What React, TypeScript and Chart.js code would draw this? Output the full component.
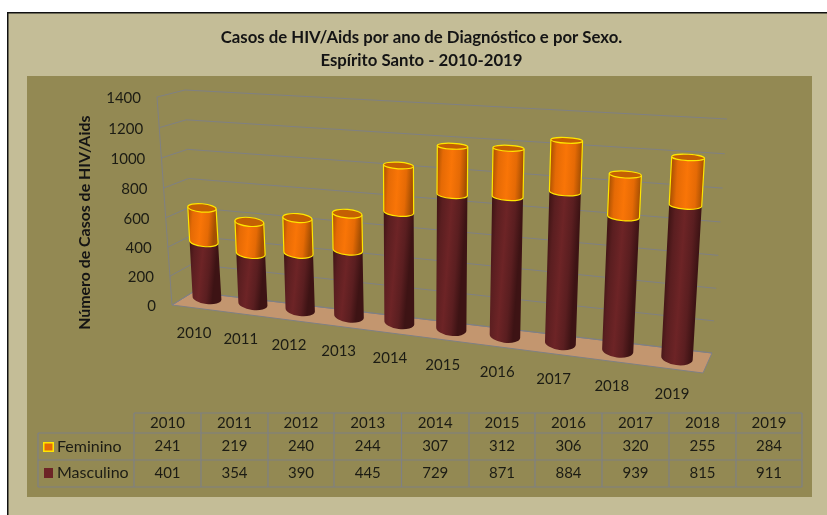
import React, { useEffect, useRef } from "react";
import { Chart, registerables } from "chart.js";

Chart.register(...registerables);

const years = ["2010", "2011", "2012", "2013", "2014", "2015", "2016", "2017", "2018", "2019"];
const feminino = [241, 219, 240, 244, 307, 312, 306, 320, 255, 284];
const masculino = [401, 354, 390, 445, 729, 871, 884, 939, 815, 911];
const chartTitle = ["Casos de HIV/Aids por ano de Diagnóstico e por Sexo.", "Espírito Santo - 2010-2019"];
const yTitle = "Número de Casos de HIV/Aids";

type Pt = [number, number];
const FONT = "Lato, Carlito, sans-serif";
const TEXT = "#1c1c14";
const GRID = "#7f8084";

const lerp = (a: number, b: number, t: number) => a + (b - a) * t;

// Perspective of a plane: unit square -> quadrilateral (0,0),(1,0),(1,1),(0,1)
function homography(q: Pt[]) {
  const [[x0, y0], [x1, y1], [x2, y2], [x3, y3]] = q;
  const dx1 = x1 - x2, dx2 = x3 - x2, sx = x0 - x1 + x2 - x3;
  const dy1 = y1 - y2, dy2 = y3 - y2, sy = y0 - y1 + y2 - y3;
  const den = dx1 * dy2 - dx2 * dy1;
  const g = (sx * dy2 - dx2 * sy) / den;
  const h = (dx1 * sy - sx * dy1) / den;
  const a = x1 - x0 + g * x1, b = x3 - x0 + h * x3;
  const d = y1 - y0 + g * y1, e = y3 - y0 + h * y3;
  return (u: number, v: number): Pt => {
    const w = g * u + h * v + 1;
    return [(a * u + b * v + x0) / w, (d * u + e * v + y0) / w];
  };
}

// Plane that holds the bar axes: foreshortening along the categories, bilinear otherwise
const depth = 1.155;
const foreshorten = (u: number) => u / (u + depth * (1 - u));
function barPlane(u: number, v: number): Pt {
  const t = foreshorten(u);
  return [lerp(lerp(207, 677, t), lerp(196, 690, t), v), lerp(lerp(298, 358, t), lerp(101.5, 123, t), v)];
}
const backWall = homography([[193, 292], [712, 353], [727, 119], [185, 90]]);
const frontWall = (v: number): Pt => [lerp(172, 157, v), lerp(305, 97, v) + 8 * v * (1 - v)];

const tableCols = [134, 201, 268, 334, 401.5, 469, 535, 602, 669, 736, 802];
const tableRows = [413, 433, 460, 487];

function cylinder(ctx: CanvasRenderingContext2D, el: any, chart: any, c: any) {
  const a = chart.chartArea;
  const cat = (a.right - a.left) / years.length;
  const u = ((el.x - a.left) / (a.right - a.left) - 0.05) / 0.9;
  const t = foreshorten(u);
  const nv = (y: number) => (a.bottom - y) / (a.bottom - a.top);
  const ends = (v: number): [Pt, Pt] => {
    const mid = barPlane(u, v);
    const k = lerp(lerp(1, 1.09, t), lerp(0.96, 1.13, t), v / 0.85);
    const half = ((el.width / cat) * 51 * k) / 2;
    const dx = lerp(470, 494, v), dy = lerp(60, 20, v);
    const n = Math.hypot(dx, dy);
    return [
      [mid[0] - (half * dx) / n, mid[1] - (half * dy) / n],
      [mid[0] + (half * dx) / n, mid[1] + (half * dy) / n],
    ];
  };
  const [L0, R0] = ends(nv(el.base));
  const [L1, R1] = ends(nv(el.y));
  const geo = (L: Pt, R: Pt) => {
    const cx = (L[0] + R[0]) / 2, cy = (L[1] + R[1]) / 2;
    const rx = Math.hypot(R[0] - L[0], R[1] - L[1]) / 2;
    const ry = 2.6 + Math.max(0, cy - 130) * 0.02;
    return { cx, cy, rx, ry, rot: Math.atan2(R[1] - L[1], R[0] - L[0]) };
  };
  const b = geo(L0, R0), e = geo(L1, R1);
  const grad = ctx.createLinearGradient(L1[0], L1[1], R1[0], R1[1]);
  grad.addColorStop(0, c.edge);
  grad.addColorStop(0.2, c.mid);
  grad.addColorStop(0.5, c.light);
  grad.addColorStop(0.78, c.mid);
  grad.addColorStop(1, c.edge);
  ctx.beginPath();
  ctx.moveTo(L1[0], L1[1]);
  ctx.lineTo(L0[0], L0[1]);
  ctx.ellipse(b.cx, b.cy, b.rx, b.ry, b.rot, Math.PI, 0, true);
  ctx.lineTo(R1[0], R1[1]);
  ctx.closePath();
  ctx.fillStyle = grad;
  ctx.fill();
  if (c.stroke) {
    ctx.strokeStyle = c.stroke;
    ctx.lineWidth = 1.2;
    ctx.beginPath();
    ctx.moveTo(L1[0], L1[1]);
    ctx.lineTo(L0[0], L0[1]);
    ctx.ellipse(b.cx, b.cy, b.rx, b.ry, b.rot, Math.PI, 0, true);
    ctx.lineTo(R1[0], R1[1]);
    ctx.stroke();
  }
  ctx.beginPath();
  ctx.ellipse(e.cx, e.cy, e.rx, e.ry, e.rot, 0, Math.PI * 2);
  ctx.fillStyle = c.top;
  ctx.fill();
  if (c.stroke) ctx.stroke();
}

const backdrop = {
  id: "backdrop",
  beforeDraw(chart: any) {
    const ctx = chart.ctx as CanvasRenderingContext2D;
    ctx.save();
    ctx.fillStyle = "#ffffff";
    ctx.fillRect(0, 0, 827, 515);
    ctx.fillStyle = "#111111";
    ctx.fillRect(7, 12, 820, 503);
    ctx.fillStyle = "#c4bd97";
    ctx.fillRect(8.5, 13.5, 818.5, 501.5);
    ctx.fillStyle = "#938953";
    ctx.fillRect(27, 76, 785, 421);
    ctx.restore();
  },
};

const scene = {
  id: "scene",
  beforeDatasetsDraw(chart: any) {
    const ctx = chart.ctx as CanvasRenderingContext2D;
    const y = chart.scales.y;
    const a = chart.chartArea;
    const nv = (px: number) => (a.bottom - px) / (a.bottom - a.top);
    ctx.save();

    // floor
    ctx.beginPath();
    ctx.moveTo(172, 305);
    ctx.lineTo(193, 292);
    ctx.lineTo(712, 353);
    ctx.lineTo(703, 373);
    ctx.closePath();
    ctx.fillStyle = "#c3966f";
    ctx.fill();
    ctx.strokeStyle = GRID;
    ctx.lineWidth = 1;
    ctx.stroke();

    // wall grid and value labels, from the value scale
    ctx.font = `15px ${FONT}`;
    ctx.textBaseline = "middle";
    for (const tick of y.ticks) {
      const v = nv(y.getPixelForValue(tick.value));
      const f = frontWall(v), l = backWall(0, v), r = backWall(1, v);
      ctx.beginPath();
      ctx.moveTo(f[0], f[1]);
      ctx.lineTo(l[0], l[1]);
      ctx.lineTo(r[0], r[1]);
      ctx.strokeStyle = GRID;
      ctx.stroke();
      ctx.fillStyle = TEXT;
      ctx.textAlign = "right";
      ctx.fillText(String(tick.value), f[0] - 16, f[1] + 1);
    }
    const f0 = frontWall(0), f1 = frontWall(1);
    ctx.strokeStyle = GRID;
    ctx.beginPath();
    ctx.moveTo(f0[0], f0[1]);
    ctx.lineTo(f1[0], f1[1]);
    ctx.stroke();

    // category labels under the bars
    const x = chart.scales.x;
    ctx.textAlign = "center";
    ctx.fillStyle = TEXT;
    years.forEach((yr, i) => {
      const u = ((x.getPixelForValue(i) - a.left) / (a.right - a.left) - 0.05) / 0.9;
      const p = barPlane(u, 0);
      ctx.fillText(yr, p[0] + lerp(-13, -5, i / 9), p[1] + lerp(35, 36, i / 9));
    });

    // cylinders: masculine first, feminine stacked on it
    const styles = [
      { edge: "#3d1314", mid: "#5a1e20", light: "#6d2426", top: "#4b1719" },
      { edge: "#a54f02", mid: "#e56a05", light: "#f97507", top: "#c46003", stroke: "#ffe600" },
    ];
    [0, 1].forEach((di) => {
      chart.getDatasetMeta(di).data.forEach((el: any) => cylinder(ctx, el, chart, styles[di]));
    });

    // data table
    ctx.strokeStyle = GRID;
    ctx.lineWidth = 1.2;
    ctx.beginPath();
    tableCols.forEach((cx) => {
      ctx.moveTo(cx, tableRows[0]);
      ctx.lineTo(cx, tableRows[3]);
    });
    ctx.moveTo(134, tableRows[0]);
    ctx.lineTo(802, tableRows[0]);
    ctx.moveTo(38, tableRows[1]);
    ctx.lineTo(802, tableRows[1]);
    ctx.moveTo(38, tableRows[2]);
    ctx.lineTo(802, tableRows[2]);
    ctx.moveTo(38, tableRows[3]);
    ctx.lineTo(802, tableRows[3]);
    ctx.moveTo(38, tableRows[1]);
    ctx.lineTo(38, tableRows[3]);
    ctx.stroke();

    ctx.fillStyle = TEXT;
    ctx.textAlign = "center";
    years.forEach((yr, i) => {
      const cx = (tableCols[i] + tableCols[i + 1]) / 2;
      ctx.fillText(yr, cx, 423);
      ctx.fillText(String(feminino[i]), cx, 446.5);
      ctx.fillText(String(masculino[i]), cx, 473.5);
    });
    ctx.textAlign = "left";
    ctx.font = `16px ${FONT}`;
    ctx.fillText("Feminino", 57, 446.5);
    ctx.fillText("Masculino", 57, 473);

    ctx.fillStyle = "#ffe600";
    ctx.fillRect(43, 442, 11, 10);
    ctx.fillStyle = "#e56a05";
    ctx.fillRect(44.5, 443.5, 8, 7);
    ctx.fillStyle = "#6d2426";
    ctx.fillRect(44, 468, 9, 10);

    ctx.restore();
    return false;
  },
};

export default function App() {
  const ref = useRef<HTMLCanvasElement>(null);
  useEffect(() => {
    const chart = new Chart(ref.current!, {
      type: "bar",
      data: {
        labels: years,
        datasets: [
          { label: "Masculino", data: masculino, backgroundColor: "#6d2426", stack: "s" },
          { label: "Feminino", data: feminino, backgroundColor: "#f97507", borderColor: "#ffe600", stack: "s" },
        ],
      },
      options: {
        animation: false,
        responsive: false,
        layout: { padding: { left: 16, top: 26.5, right: 0, bottom: 148 } },
        datasets: { bar: { categoryPercentage: 1, barPercentage: 0.57 } },
        plugins: {
          legend: { display: false },
          tooltip: { enabled: false },
          title: {
            display: true,
            text: chartTitle,
            color: "#141414",
            font: { family: FONT, size: 16.75, weight: "bold", lineHeight: 1.37 },
            padding: { top: 0, bottom: 6 },
          },
        },
        scales: {
          x: { stacked: true, display: false },
          y: {
            stacked: true,
            min: 0,
            max: 1400,
            ticks: { stepSize: 200, display: false },
            grid: { display: false },
            border: { display: false },
            title: {
              display: true,
              text: yTitle,
              color: "#141414",
              font: { family: FONT, size: 15.9, weight: "bold" },
              padding: { top: 59, bottom: 0 },
            },
          },
        },
      },
      plugins: [backdrop, scene],
    } as any);
    return () => chart.destroy();
  }, []);
  return (
    <div style={{ position: "fixed", left: 0, top: 0, width: 827, height: 515 }}>
      <canvas ref={ref} width={827} height={515} style={{ display: "block" }} />
    </div>
  );
}
